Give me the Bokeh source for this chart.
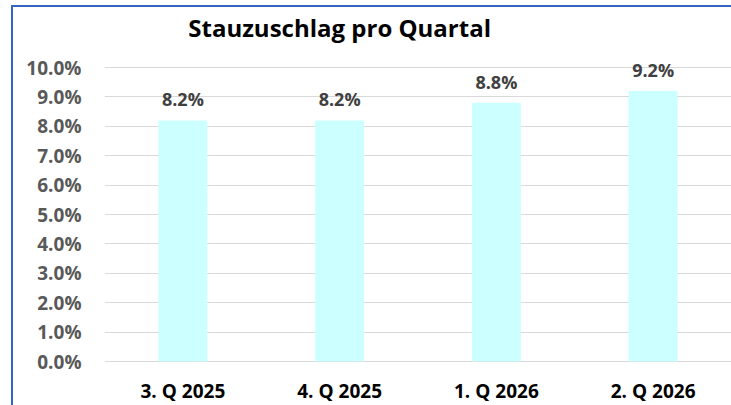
from bokeh.plotting import figure
from bokeh.models import (ColumnDataSource, FixedTicker, Range1d, FactorRange,
                          Label, PrintfTickFormatter, InlineStyleSheet)
from bokeh.core.properties import value
from bokeh.embed import file_html
from bokeh.resources import INLINE

categories = ["3. Q 2025", "4. Q 2025", "1. Q 2026", "2. Q 2026"]
values = [8.2, 8.2, 8.8, 9.2]
y_ticks = [0, 1, 2, 3, 4, 5, 6, 7, 8, 9, 10]
title_text = "Stauzuschlag pro Quartal"

FONT = "Open Sans"
W, H = 731, 405
PX_PER_UNIT = 29.4      # vertical scale (pixels per 1 %)
ZERO_FROM_BOTTOM = 44   # pixels below the 0 % line

source = ColumnDataSource(data=dict(
    cat=categories,
    val=values,
    lbl=[f"{v:.1f}%" for v in values],
    base=[0] * len(categories),
))

y_start = -ZERO_FROM_BOTTOM / PX_PER_UNIT
y_end = y_start + H / PX_PER_UNIT

p = figure(
    width=W, height=H,
    x_range=FactorRange(factors=categories),
    y_range=Range1d(y_start, y_end),
    output_backend="svg", toolbar_location=None,
    min_border_left=104, min_border_right=0,
    min_border_top=0, min_border_bottom=0,
)
p.background_fill_color = "white"
p.border_fill_color = "white"
p.outline_line_color = None

p.vbar(x="cat", top="val", width=0.312, source=source,
       fill_color="#CCFFFF", line_color=None)

# data labels
p.text(x="cat", y="val", text="lbl", source=source,
       text_align="center", text_baseline="middle", y_offset=-21,
       text_font=value(FONT), text_font_style="bold",
       text_font_size="18px", text_color="#404040")

# category labels (below the 0 line)
p.text(x="cat", y="base", text="cat", source=source,
       text_align="center", text_baseline="middle", y_offset=29,
       text_font=value(FONT), text_font_style="bold",
       text_font_size="19px", text_color="#000000")

# axes
p.xaxis.visible = False
p.yaxis.ticker = FixedTicker(ticks=y_ticks)
p.yaxis.formatter = PrintfTickFormatter(format="%.1f%%")
p.yaxis.axis_line_color = None
p.yaxis.major_tick_line_color = None
p.yaxis.minor_tick_line_color = None
p.yaxis.major_label_standoff = 17
p.yaxis.major_label_text_font = FONT
p.yaxis.major_label_text_font_style = "bold"
p.yaxis.major_label_text_font_size = "19px"
p.yaxis.major_label_text_color = "#595959"

p.xgrid.grid_line_color = None
p.ygrid.ticker = FixedTicker(ticks=y_ticks)
p.ygrid.grid_line_color = "#D9D9D9"
p.ygrid.grid_line_width = 1

# title
p.add_layout(Label(x=1.5, y=11.36, text=title_text, text_align="center",
                   text_baseline="middle", text_font=FONT,
                   text_font_style="bold", text_font_size="24px",
                   text_color="#000000"))

# chart border (top and left edges, like the cropped Excel chart frame)
p.stylesheets = [InlineStyleSheet(css="""
:host { position: relative; overflow: hidden; }
:host::before {
  content: ""; position: absolute; left: 11px; top: 5px; width: 2px; height: 400px;
  background: #3565C4; pointer-events: none; z-index: 100;
}
:host::after {
  content: ""; position: absolute; left: 11px; top: 5px; width: 720px; height: 2px;
  background: #3565C4; pointer-events: none; z-index: 100;
}
""")]

open("out.html", "w").write(file_html(p, INLINE))
